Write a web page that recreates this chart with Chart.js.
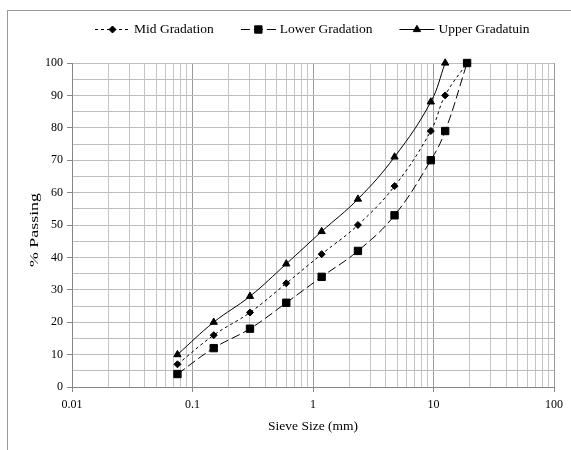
<!DOCTYPE html>
<html>
<head>
<meta charset="utf-8">
<style>
  html, body { margin: 0; padding: 0; background: #fff; }
  #wrap { position: relative; width: 571px; height: 450px; overflow: hidden; }
  #frame { position: absolute; left: 7px; top: 10px; width: 620px; height: 520px;
           border-left: 1px solid #999; border-top: 1px solid #999; }
  canvas { position: absolute; left: 0; top: 0; }
</style>
<script src="https://cdn.jsdelivr.net/npm/chart.js@4.4.1/dist/chart.umd.min.js"></script>
</head>
<body>
<div id="wrap">
  <div id="frame"></div>
  <canvas id="gradationChart" width="571" height="450"></canvas>
</div>
<script>
// datos
const sieveSizes = [0.075, 0.15, 0.3, 0.6, 1.18, 2.36, 4.75, 9.5, 12.5, 19];
const midPassing = [7, 16, 23, 32, 41, 50, 62, 79, 90, 100];
const lowerPassing = [4, 12, 18, 26, 34, 42, 53, 70, 79, 100];
const upperPassing = [10, 20, 28, 38, 48, 58, 71, 88, 100];

const xMajorTicks = [0.01, 0.1, 1, 10, 100];
const yTickLabels = [0, 10, 20, 30, 40, 50, 60, 70, 80, 90, 100];
const xTitle = 'Sieve Size (mm)';
const yTitle = '% Passing';

const serif = '"Liberation Serif", "Times New Roman", serif';

// lineas menores del eje log (2..9 de cada decada)
const xTickValues = [];
xMajorTicks.forEach((d, i) => {
    xTickValues.push(d);
    if (i < xMajorTicks.length - 1) {
        for (let m = 2; m <= 9; m++) xTickValues.push(m * d);
    }
});

function isDecade(v) {
    return xMajorTicks.some(d => Math.abs(d - v) < d * 1e-6);
}

function toPoints(values) {
    return values.map((y, i) => ({ x: sieveSizes[i], y: y }));
}

// leyenda y titulo vertical dibujados a mano
const overlayPlugin = {
    id: 'overlay',
    afterDraw(chart) {
        const ctx = chart.ctx;
        let x = 95;
        const y = 29.5;
        chart.data.datasets.forEach(ds => {
            ctx.save();
            ctx.strokeStyle = '#000';
            ctx.lineWidth = 1;
            ctx.setLineDash(ds.borderDash || []);
            ctx.beginPath();
            ctx.moveTo(x, y);
            ctx.lineTo(x + 35, y);
            ctx.stroke();
            ctx.setLineDash([]);
            ctx.fillStyle = '#000';
            Chart.helpers.drawPoint(ctx, {
                pointStyle: ds.pointStyle, radius: ds.pointRadius, borderWidth: 1, rotation: 0
            }, x + 17.5, y);
            ctx.font = '13.5px ' + serif;
            ctx.textAlign = 'left';
            ctx.textBaseline = 'middle';
            ctx.fillText(ds.label, x + 39, y);
            x += 39 + ctx.measureText(ds.label).width + 27;
            ctx.restore();
        });

        const area = chart.chartArea;
        ctx.save();
        ctx.translate(34.5, (area.top + area.bottom) / 2 + 5);
        ctx.rotate(-Math.PI / 2);
        ctx.font = '13.5px ' + serif;
        const w = ctx.measureText(yTitle).width;
        ctx.scale(74 / w, 1);
        ctx.fillStyle = '#000';
        ctx.textAlign = 'center';
        ctx.textBaseline = 'middle';
        ctx.fillText(yTitle, 0, 0);
        ctx.restore();
    }
};

const common = {
    borderColor: '#000',
    backgroundColor: '#000',
    pointBackgroundColor: '#000',
    pointBorderColor: '#000',
    pointBorderWidth: 1,
    borderWidth: 1,
    tension: 0.4,
    fill: false,
    clip: false
};

new Chart(document.getElementById('gradationChart'), {
    type: 'line',
    data: {
        datasets: [
            Object.assign({}, common, {
                label: 'Mid Gradation', data: toPoints(midPassing),
                borderDash: [3, 3], pointStyle: 'rectRot', pointRadius: 3.5
            }),
            Object.assign({}, common, {
                label: 'Lower Gradation', data: toPoints(lowerPassing),
                borderDash: [9, 4], pointStyle: 'rect', pointRadius: 5.2
            }),
            Object.assign({}, common, {
                label: 'Upper Gradatuin', data: toPoints(upperPassing),
                borderDash: [], pointStyle: 'triangle', pointRadius: 4.2
            })
        ]
    },
    options: {
        responsive: false,
        animation: false,
        devicePixelRatio: 1,
        layout: { padding: { left: 22, right: 17, top: 63, bottom: 11 } },
        plugins: {
            legend: { display: false },
            tooltip: { enabled: false }
        },
        scales: {
            x: {
                type: 'logarithmic',
                min: 0.01,
                max: 100,
                afterBuildTicks: scale => {
                    scale.ticks = xTickValues.map(v => ({ value: v }));
                },
                afterFit: scale => { scale.height = 52; },
                border: { color: '#868686' },
                grid: {
                    color: ctx => isDecade(ctx.tick.value) ? '#9a9a9a' : '#c4c4c4',
                    tickColor: ctx => isDecade(ctx.tick.value) ? '#868686' : 'rgba(0,0,0,0)',
                    tickLength: 5
                },
                ticks: {
                    autoSkip: false,
                    maxRotation: 0,
                    padding: 6,
                    color: '#000',
                    font: { family: serif, size: 12 },
                    callback: v => isDecade(v) ? String(v) : ''
                },
                title: {
                    display: true, text: xTitle, color: '#000',
                    font: { family: serif, size: 13.5 },
                    padding: { top: 4, bottom: 4 }
                }
            },
            y: {
                min: 0,
                max: 100,
                afterFit: scale => { scale.width = 50; },
                border: { color: '#868686' },
                grid: {
                    color: '#bdbdbd',
                    tickColor: ctx => yTickLabels.includes(ctx.tick.value) ? '#868686' : 'rgba(0,0,0,0)',
                    tickLength: 5
                },
                ticks: {
                    stepSize: 5,
                    autoSkip: false,
                    padding: 4,
                    color: '#000',
                    font: { family: serif, size: 12 },
                    callback: v => yTickLabels.includes(v) ? String(v) : ''
                }
            }
        }
    },
    plugins: [overlayPlugin]
});
</script>
</body>
</html>
